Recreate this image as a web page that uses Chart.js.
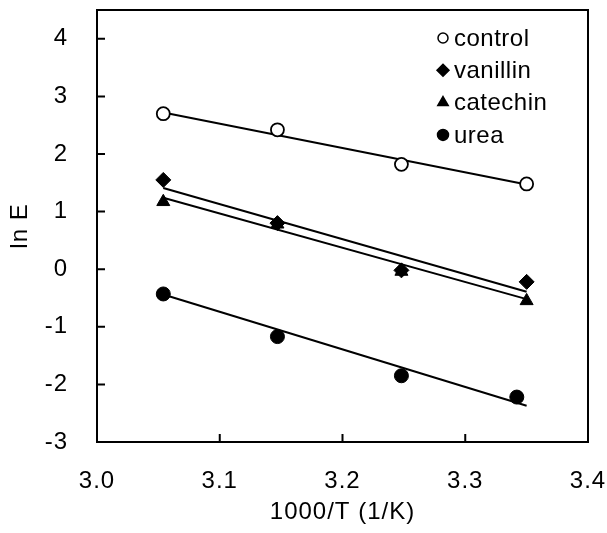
<!DOCTYPE html>
<html>
<head>
<meta charset="utf-8">
<script src="https://cdn.jsdelivr.net/npm/chart.js@4/dist/chart.umd.min.js"></script>
<style>
  html, body { margin: 0; padding: 0; background: #fff; }
  canvas { display: block; }
</style>
</head>
<body>
<canvas id="chart" width="607" height="533"></canvas>
<script>
// Measured points (1000/T vs ln E)
const tempX = [3.054, 3.147, 3.248, 3.350];
const ureaX = [3.054, 3.147, 3.248, 3.342];
const controlY = [2.70, 2.42, 1.82, 1.48];
const vanillinY = [1.55, 0.80, -0.02, -0.22];
const catechinY = [1.17, 0.78, -0.04, -0.55];
const ureaY = [-0.43, -1.17, -1.85, -2.22];

// Fitted lines, end values
const fitX = [3.054, 3.350];
const controlFit = [2.72, 1.47];
const vanillinFit = [1.41, -0.39];
const catechinFit = [1.24, -0.52];
const ureaFit = [-0.44, -2.37];

const seriesNames = ['control', 'vanillin', 'catechin', 'urea'];

const fontFamily = '"Liberation Sans", Arial, Helvetica, sans-serif';
const ink = '#000';

const toPoints = (xs, ys) => xs.map((x, i) => ({ x: x, y: ys[i] }));

const pointStyles = {
    control: { pointStyle: 'circle', radius: 6.5, fill: '#fff', borderWidth: 1.8 },
    vanillin: { pointStyle: 'rectRot', radius: 7.5, fill: ink, borderWidth: 1 },
    catechin: { pointStyle: 'triangle', radius: 7.5, fill: ink, borderWidth: 1 },
    urea: { pointStyle: 'circle', radius: 7, fill: ink, borderWidth: 1 },
};

const pointSet = (name, xs, ys) => ({
    label: name,
    data: toPoints(xs, ys),
    showLine: false,
    pointStyle: pointStyles[name].pointStyle,
    pointRadius: pointStyles[name].radius,
    pointBackgroundColor: pointStyles[name].fill,
    pointBorderColor: ink,
    pointBorderWidth: pointStyles[name].borderWidth,
    order: 0,
});

const fitSet = (name, ys) => ({
    label: name + ' fit',
    data: toPoints(fitX, ys),
    showLine: true,
    borderColor: ink,
    borderWidth: 2,
    pointRadius: 0,
    order: 1,
});

// the scanned lettering is a bit wider than Arial
const spacingPlugin = {
    id: 'spacing',
    beforeDraw(chart) {
        chart.ctx.letterSpacing = '1px';
    },
};

// frame + inward ticks + legend inside the plot
const framePlugin = {
    id: 'frame',
    afterDatasetsDraw(chart) {
        const { ctx, chartArea: a, scales } = chart;
        ctx.save();
        ctx.strokeStyle = ink;
        ctx.lineWidth = 2;
        ctx.strokeRect(a.left, a.top, a.right - a.left, a.bottom - a.top);

        ctx.beginPath();
        scales.x.ticks.forEach(t => {
            const px = scales.x.getPixelForValue(t.value);
            ctx.moveTo(px, a.bottom);
            ctx.lineTo(px, a.bottom - 8);
        });
        scales.y.ticks.forEach(t => {
            const py = scales.y.getPixelForValue(t.value);
            ctx.moveTo(a.left, py);
            ctx.lineTo(a.left + 8, py);
        });
        ctx.stroke();

        // legend
        ctx.font = '24px ' + fontFamily;
        ctx.letterSpacing = '0.5px';
        ctx.textBaseline = 'middle';
        ctx.textAlign = 'left';
        seriesNames.forEach((name, i) => {
            const st = pointStyles[name];
            const lx = a.right - 145;
            const ly = a.top + 28 + i * 32.3;
            ctx.save();
            ctx.fillStyle = st.fill;
            ctx.strokeStyle = ink;
            ctx.lineWidth = 1.5;
            Chart.helpers.drawPoint(ctx, {
                pointStyle: st.pointStyle,
                radius: st.radius - 1.5,
                rotation: 0,
                borderWidth: 1.5,
            }, lx, ly);
            ctx.restore();
            ctx.fillStyle = ink;
            ctx.fillText(name, lx + 11, ly + 1);
        });
        ctx.restore();
    },
};

new Chart(document.getElementById('chart'), {
    type: 'scatter',
    data: {
        datasets: [
            pointSet('control', tempX, controlY),
            pointSet('vanillin', tempX, vanillinY),
            pointSet('catechin', tempX, catechinY),
            pointSet('urea', ureaX, ureaY),
            fitSet('control', controlFit),
            fitSet('vanillin', vanillinFit),
            fitSet('catechin', catechinFit),
            fitSet('urea', ureaFit),
        ],
    },
    options: {
        responsive: false,
        animation: false,
        layout: {
            padding: { top: 10, right: 19, left: 0, bottom: 0 },
        },
        plugins: {
            legend: { display: false },
            tooltip: { enabled: false },
        },
        scales: {
            x: {
                type: 'linear',
                min: 3.0,
                max: 3.4,
                grid: { display: false, drawTicks: false },
                border: { display: false },
                ticks: {
                    stepSize: 0.1,
                    color: ink,
                    padding: 25,
                    font: { family: fontFamily, size: 24 },
                    maxRotation: 0,
                    callback: v => v.toFixed(1),
                },
                title: {
                    display: true,
                    text: '1000/T (1/K)',
                    color: ink,
                    font: { family: fontFamily, size: 24 },
                    padding: { top: 0, bottom: 6 },
                },
                afterFit(scale) {
                    scale.height = 91;
                    scale.paddingLeft = 0;
                    scale.paddingRight = 0;
                },
            },
            y: {
                type: 'linear',
                min: -3,
                max: 4.5,
                grid: { display: false, drawTicks: false },
                border: { display: false },
                afterBuildTicks(scale) {
                    scale.ticks = scale.ticks.filter(t => Number.isInteger(t.value));
                },
                ticks: {
                    stepSize: 1,
                    color: ink,
                    padding: 29,
                    font: { family: fontFamily, size: 24 },
                },
                title: {
                    display: true,
                    text: 'ln E',
                    color: ink,
                    font: { family: fontFamily, size: 24 },
                    padding: { top: 6, bottom: 0 },
                },
                afterFit(scale) {
                    scale.width = 97;
                    scale.paddingTop = 0;
                    scale.paddingBottom = 0;
                },
            },
        },
    },
    plugins: [spacingPlugin, framePlugin],
});
</script>
</body>
</html>
